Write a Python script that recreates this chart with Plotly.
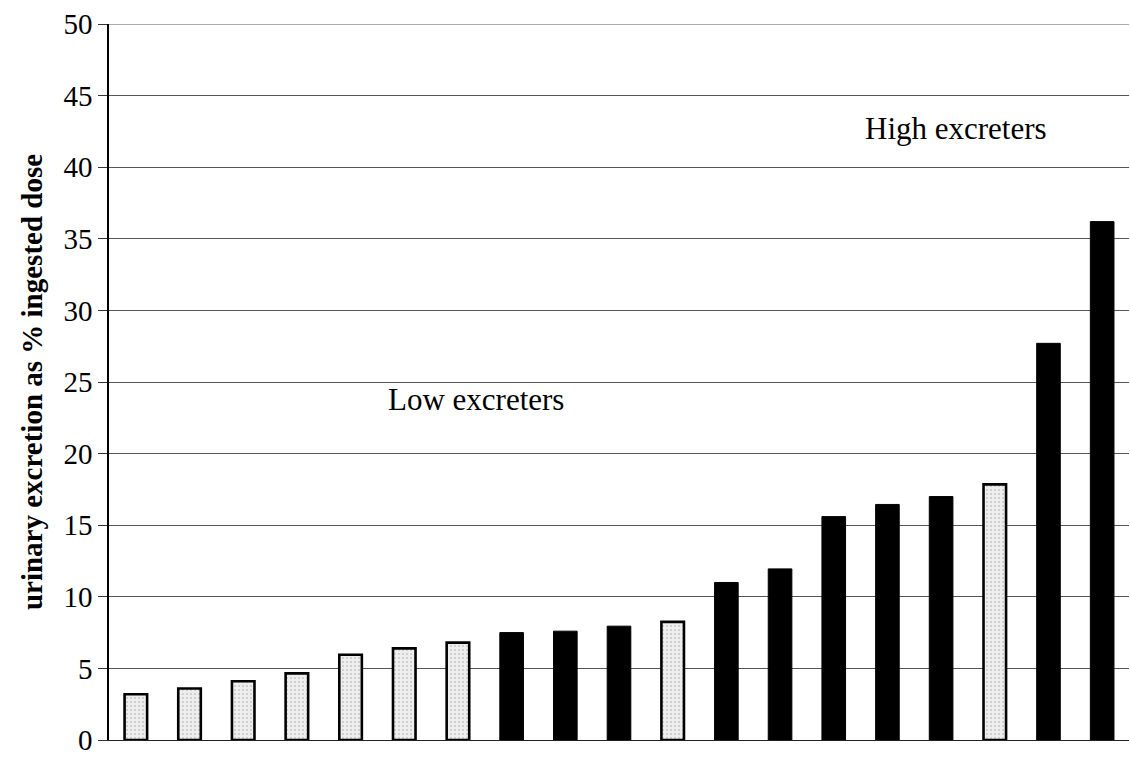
import plotly.graph_objects as go

subjects = list(range(1, 20))
values = [3.2, 3.6, 4.1, 4.65, 5.95, 6.4, 6.8, 7.5, 7.6, 7.95, 8.25,
          11.0, 11.95, 15.6, 16.45, 17.0, 17.85, 27.7, 36.2]
groups = ["low", "low", "low", "low", "low", "low", "low", "high", "high", "high", "low",
          "high", "high", "high", "high", "high", "low", "high", "high"]
y_ticks = [0, 5, 10, 15, 20, 25, 30, 35, 40, 45, 50]
y_title = "urinary excretion as % ingested dose"
labels = [("High excreters", 16.27, 42.7), ("Low excreters", 7.33, 23.8)]

SERIF = "Liberation Serif, Times New Roman, serif"

fig = go.Figure()
low_x = [s for s, g in zip(subjects, groups) if g == "low"]
low_y = [v for v, g in zip(values, groups) if g == "low"]
high_x = [s for s, g in zip(subjects, groups) if g == "high"]
high_y = [v for v, g in zip(values, groups) if g == "high"]

fig.add_trace(go.Bar(
    x=low_x, y=low_y, width=0.42,
    marker=dict(color="#eeeeee", line=dict(color="black", width=2.6),
                pattern=dict(shape=".", fgcolor="#a0a0a0", bgcolor="#eeeeee",
                             size=4, solidity=0.2)),
    showlegend=False))
fig.add_trace(go.Bar(
    x=high_x, y=high_y, width=0.44,
    marker=dict(color="black", line=dict(color="black", width=1)),
    showlegend=False))

for text, xx, yy in labels:
    fig.add_annotation(x=xx, y=yy, text=text, showarrow=False,
                       font=dict(family=SERIF, size=31, color="black"))

fig.update_layout(
    width=1130, height=757,
    margin=dict(l=109, r=1, t=24, b=12),
    paper_bgcolor="white", plot_bgcolor="white",
    bargap=0.55,
    xaxis=dict(range=[0.5, 19.5], showticklabels=False, ticks="",
               showgrid=False, zeroline=False, showline=True,
               linecolor="#222", linewidth=1.2, fixedrange=True),
    yaxis=dict(range=[0, 50], tickvals=y_ticks, ticks="outside", ticklen=9,
               tickcolor="#333", showgrid=True, gridcolor="#555", gridwidth=1,
               zeroline=False, showline=True, linecolor="black", linewidth=1.5,
               ticklabeloverflow="allow",
               tickfont=dict(family=SERIF, size=29, color="black"),
               title=dict(text="<b>" + y_title + "</b>", standoff=12,
                          font=dict(family=SERIF, size=29, color="black"))),
    shapes=[dict(type="line", xref="paper", yref="y", x0=0, x1=1, y0=50, y1=50,
                 line=dict(color="#555", width=1))],
)

fig.write_html("out.html", config={"displayModeBar": False},
               post_script="document.body.style.margin='0';document.body.style.padding='0';")
